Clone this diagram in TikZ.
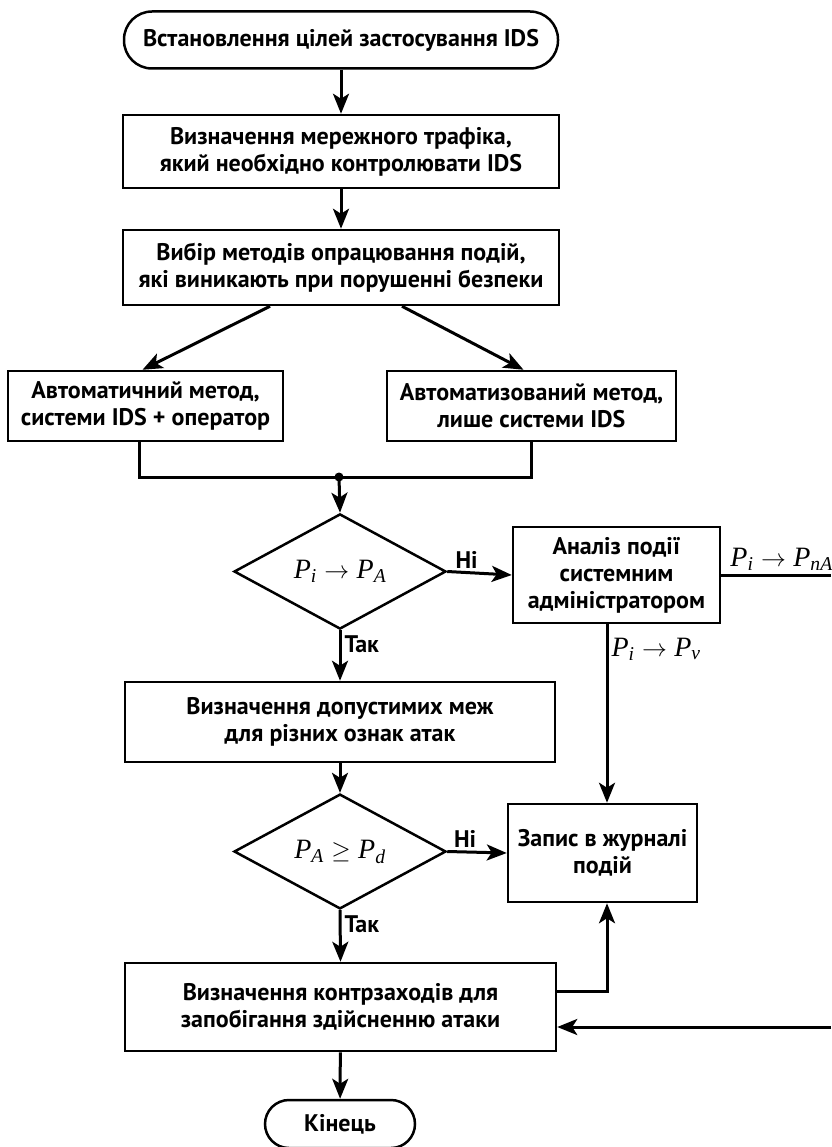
\documentclass[tikz,border=0pt]{standalone}
\usepackage{fontspec}
\setmainfont{PT Sans}
\newfontfamily\serifvar{Liberation Serif}
\usepackage{xcolor}
\definecolor{cLine}{HTML}{000000}
\usetikzlibrary{positioning,arrows.meta,shapes.geometric,calc}
\newcommand{\pvar}[2]{{\serifvar\itshape P\textsubscript{#2}}}
\tikzset{
  node-box/.style={draw=cLine,line width=2.5pt,minimum height=72pt,align=center,
    font=\fontsize{24}{27}\selectfont\bfseries,inner sep=2pt},
  node-term/.style={node-box,rounded corners=24pt},
  node-dec/.style={draw=cLine,line width=2.5pt,diamond,minimum width=212pt,
    minimum height=114pt,inner sep=0pt,font=\fontsize{28}{28}\selectfont},
  arrow/.style={-{Stealth[length=20pt,width=16pt,inset=5pt]},line width=3pt,draw=cLine},
  conn-line/.style={line width=3pt,draw=cLine},
  lbl/.style={font=\fontsize{24}{27}\selectfont\bfseries,inner sep=3pt},
  lbl-math/.style={font=\fontsize{28}{28}\selectfont,inner sep=3pt},
}

\begin{document}
\begin{tikzpicture}[x=1pt,y=-1pt]
  \useasboundingbox (0,0) rectangle (831,1147);
  % upper part
  \node[node-term,minimum width=434pt,minimum height=57pt,rounded corners=28pt] (start) at (341,40) {Встановлення цілей застосування IDS};
  \node[node-box,minimum width=436pt,minimum height=73pt] (traffic) at (341,151.5) {Визначення мережного трафіка,\\який необхідно контролювати IDS};
  \node[node-box,minimum width=436pt,minimum height=75pt] (methods) at (341,267.5) {Вибір методів опрацювання подій,\\які виникають при порушенні безпеки};
  \node[node-box,minimum width=275pt,minimum height=70pt] (auto) at (145.5,406) {Автоматичний метод,\\системи IDS + оператор};
  \node[node-box,minimum width=289pt,minimum height=70pt] (autoz) at (531.5,406) {Автоматизований метод,\\лише системи IDS};
  \coordinate (join) at (339,477);
  % decisions
  \node[node-dec] (dec1) at (340,571.5) {\pvar{P}{i} $\rightarrow$ \pvar{P}{A}};
  \node[node-box,minimum width=207pt,minimum height=96pt] (admin) at (616.5,575) {Аналіз події\\системним\\адміністратором};
  \node[node-box,minimum width=430pt,minimum height=80pt] (limits) at (340,722) {Визначення допустимих меж\\для різних ознак атак};
  \node[node-dec] (dec2) at (340,851.5) {\pvar{P}{A} $\geq$ \pvar{P}{d}};
  \node[node-box,minimum width=189pt,minimum height=98pt] (log) at (602.5,853) {Запис в журналі\\подій};
  \node[node-box,minimum width=431pt,minimum height=88pt] (counter) at (340.5,1007) {Визначення контрзаходів для\\запобігання здійсненню атаки};
  \node[node-term,minimum width=150pt,minimum height=48pt] (finish) at (340,1124) {Кінець};
  \coordinate (vx) at (607,0);
  \coordinate (outA) at (831,575);
  \coordinate (inB) at (831,1027);

  \draw[arrow] (start) -- (traffic);
  \draw[arrow] (traffic) -- (methods);
  \draw[arrow] ([xshift=-71pt]methods.south) -- ([xshift=-3pt]auto.north);
  \draw[arrow] ([xshift=61pt]methods.south) -- ([xshift=-8pt]autoz.north);
  \draw[conn-line] ([xshift=-6pt]auto.south) |- (join) -| (autoz.south);
  \fill[cLine] (join) circle (4.5pt);
  \draw[arrow] (join) -- (dec1.north);
  \draw[arrow] (dec1.east) -- node[lbl,above,pos=0.3] (no1) {Ні} (admin.west);
  \draw[arrow] (dec1.south) -- node[lbl,right,pos=0.27] (yes1) {Так} (limits.north);
  \draw[conn-line] (admin.east) -- node[lbl-math,above,pos=0.55] (lblnA) {\pvar{P}{i} $\rightarrow$ \pvar{P}{nA}} (outA);
  \draw[arrow] (admin.south -| vx) -- node[lbl-math,right,pos=0.14] (lblv) {\pvar{P}{i} $\rightarrow$ \pvar{P}{ν}} (log.north -| vx);
  \draw[arrow] (limits) -- (dec2);
  \draw[arrow] (dec2.east) -- node[lbl,above,pos=0.3] (no2) {Ні} (log.west);
  \draw[arrow] (dec2.south) -- node[lbl,right,pos=0.27] (yes2) {Так} (counter.north);
  \draw[arrow] ([yshift=16pt]counter.east) -| (log.south -| vx);
  \draw[arrow] (inB) -- (inB -| counter.east);
  \draw[arrow] (counter) -- (finish);
\end{tikzpicture}
\end{document}
